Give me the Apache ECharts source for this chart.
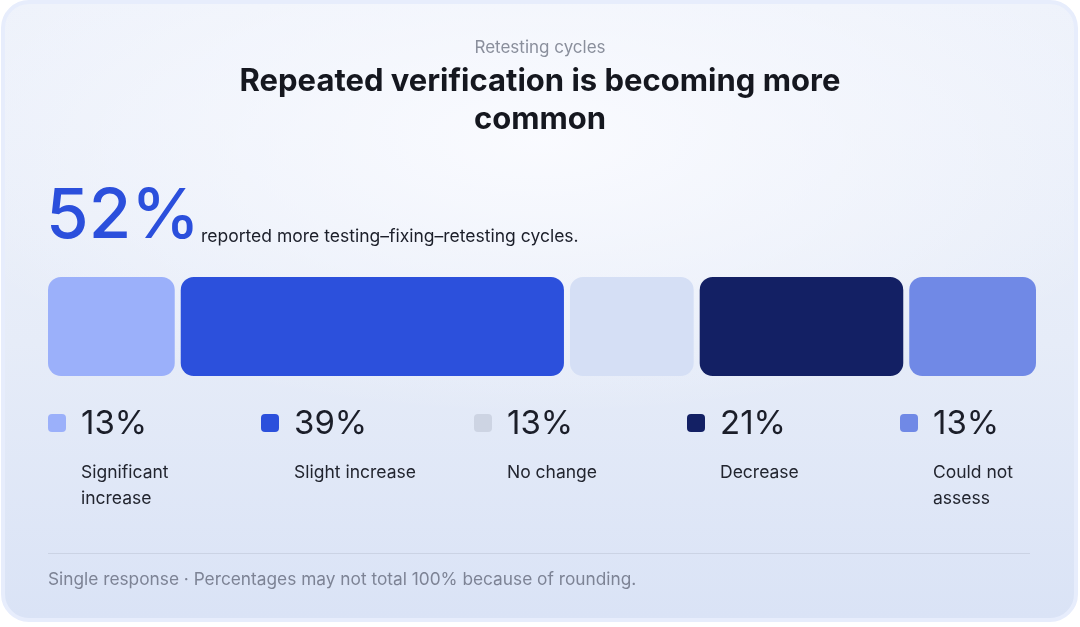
<!DOCTYPE html>
<html>
<head>
<meta charset="utf-8">
<script src="https://cdn.jsdelivr.net/npm/echarts@6/dist/echarts.min.js"></script>
<style>
  html, body { margin:0; padding:0; background:#ffffff; }
  #card {
    position:absolute; left:1px; top:0; width:1069px; height:614px;
    border:4px solid #e7edfc; border-radius:28px;
    background:
      radial-gradient(ellipse 60% 45% at 50% 22%, rgba(250,251,255,0.95), rgba(250,251,255,0) 100%),
      linear-gradient(180deg, #eef2fb 0%, #e6ecf8 55%, #dae3f6 100%);
  }
  #myChart { position:absolute; left:0; top:0; width:1080px; height:627px; }
</style>
</head>
<body>
<div id="card"></div>
<div id="myChart"></div>
<script type="text/javascript">
//数据
var categories = ['Significant increase', 'Slight increase', 'No change', 'Decrease', 'Could not assess'];
var shares     = [13, 39, 13, 21, 13];
var barColors  = ['#9bb0fa', '#2c50dc', '#d5dff5', '#132064', '#7089e6'];
var dotColors  = ['#9bb0fa', '#2c50dc', '#cdd4e3', '#132064', '#7089e6'];
var headline   = '52%';

var font = 'Inter, "Noto Sans", sans-serif';
var total = 0;
var starts = [];
for (var i = 0; i < shares.length; i++) { starts.push(total); total += shares[i]; }

var chart = echarts.init(document.getElementById('myChart'));

//图例
var legendEls = [];
for (var k = 0; k < categories.length; k++)
{
	var lx = 48 + k * 213;
	legendEls.push({
		type:'rect', left:lx, top:414,
		shape:{width:18, height:18, r:4},
		style:{fill:dotColors[k]}
	});
	legendEls.push({
		type:'text', left:lx + 33, top:408,
		style:{text:shares[k] + '%', fill:'#1b1e29', font:'400 33px ' + font}
	});
	legendEls.push({
		type:'text', left:lx + 33, top:460,
		style:{text:categories[k], fill:'#22252f', font:'400 17.5px ' + font,
			width:134, overflow:'break', lineHeight:26}
	});
}

var option = {
	animation:false,
	grid:{left:48, right:44, top:277, height:99},
	xAxis:{type:'value', min:0, max:total, show:false},
	yAxis:{type:'category', data:['all'], show:false},
	series:[{
		type:'custom',
		data:shares.map(function(v, i){ return [starts[i], starts[i] + v, i]; }),
		encode:{x:[0, 1]},
		renderItem:function(params, api)
		{
			var idx = api.value(2);
			var p0 = api.coord([api.value(0), 0]);
			var p1 = api.coord([api.value(1), 0]);
			var gap = 3;
			var x0 = p0[0] + (idx === 0 ? 0 : gap);
			var x1 = p1[0] - (idx === shares.length - 1 ? 0 : gap);
			return {
				type:'rect',
				shape:{x:x0, y:277, width:x1 - x0, height:99, r:13},
				style:{fill:barColors[idx]}
			};
		}
	}],
	graphic:[
		{type:'text', left:'center', top:39,
			style:{text:'Retesting cycles', fill:'#8a8f9c', font:'400 17px ' + font}},
		{type:'text', left:'center', top:66,
			style:{text:'Repeated verification is becoming more', fill:'#15171f', font:'700 31px ' + font}},
		{type:'text', left:'center', top:104,
			style:{text:'common', fill:'#15171f', font:'700 31px ' + font}},
		{type:'text', left:46, top:183,
			style:{text:headline, fill:'#2b4fdc', font:'500 69px ' + font}},
		{type:'text', left:201, top:228,
			style:{text:'reported more testing\u2013fixing\u2013retesting cycles.', fill:'#1b1e29', font:'400 17.5px ' + font}},
		{type:'line', shape:{x1:48, y1:553.5, x2:1030, y2:553.5},
			style:{stroke:'#cbd3e4', lineWidth:1}},
		{type:'text', left:48, top:571,
			style:{text:'Single response \u00b7 Percentages may not total 100% because of rounding.', fill:'#7d8395', font:'400 17.3px ' + font}}
	].concat(legendEls)
};
chart.setOption(option);
</script>
</body>
</html>
